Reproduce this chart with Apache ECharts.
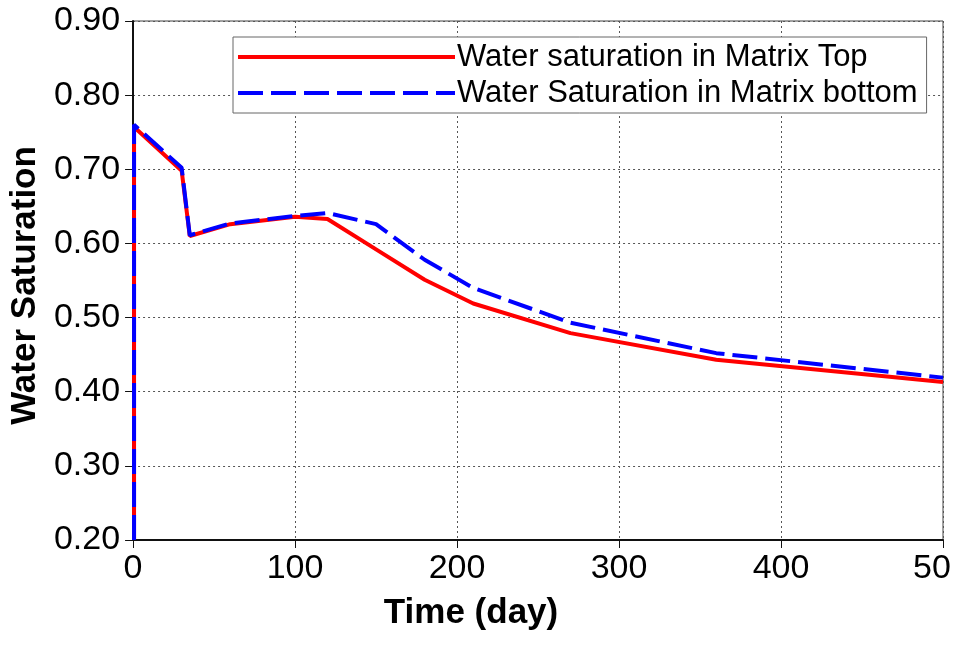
<!DOCTYPE html>
<html>
<head>
<meta charset="utf-8">
<script src="https://cdn.jsdelivr.net/npm/echarts@6/dist/echarts.min.js"></script>
<style>
html,body{margin:0;padding:0;background:#fff;}
#chart{width:958px;height:645px;}
</style>
</head>
<body>
<div id="chart"></div>
<script>
// ---- data ----
const timeDays = [0.6, 0.6, 30, 35, 60, 100, 120, 150, 180, 210, 270, 360, 500];
const swMatrixTop = [0.20, 0.757, 0.698, 0.610, 0.626, 0.636, 0.633, 0.592, 0.551, 0.519, 0.479, 0.443, 0.413];
const swMatrixBottom = [0.20, 0.760, 0.702, 0.611, 0.627, 0.637, 0.641, 0.626, 0.578, 0.540, 0.493, 0.452, 0.419];
const xTickLabels = ["0", "100", "200", "300", "400", "50"];
const yTickLabels = ["0.20", "0.30", "0.40", "0.50", "0.60", "0.70", "0.80", "0.90"];
const seriesNames = ["Water saturation in Matrix Top", "Water Saturation in Matrix bottom"];
const xTitle = "Time (day)";
const yTitle = "Water Saturation";

const FONT = "'Liberation Sans', Arial, sans-serif";
const chart = echarts.init(document.getElementById('chart'), null, {renderer: 'canvas'});

const pairs = (xs, ys) => xs.map((x, i) => [x, ys[i]]);

chart.setOption({
  animation: false,
  backgroundColor: '#fff',
  grid: {
    left: 131, right: 15, top: 21, bottom: 105,
    show: true, borderColor: '#444', borderWidth: 1, backgroundColor: 'transparent'
  },
  legend: {
    orient: 'vertical',
    left: 233, top: 37,
    padding: [2, 9, 2, 3],
    backgroundColor: '#fff',
    borderColor: '#666', borderWidth: 1,
    itemWidth: 217, itemHeight: 14, itemGap: 0,
    itemStyle: {opacity: 0},
    lineStyle: {width: 4},
    textStyle: {fontFamily: FONT, fontSize: 31, color: '#000', lineHeight: 36, padding: [0, 0, 0, -3]},
    data: seriesNames
  },
  xAxis: {
    type: 'value', min: 0, max: 500, interval: 100,
    name: xTitle, nameLocation: 'middle', nameGap: 56,
    nameTextStyle: {fontFamily: FONT, fontSize: 35, fontWeight: 'bold', color: '#000', padding: [0, 134, 0, 0]},
    axisLine: {show: true, onZero: false, lineStyle: {color: '#111', width: 2}},
    axisTick: {show: true, inside: false, length: 8, lineStyle: {color: '#111', width: 1}},
    axisLabel: {
      fontFamily: FONT, fontSize: 34, color: '#000', margin: 12,
      formatter: v => { const i = Math.round(v / 100); return i === xTickLabels.length - 1 ? '{cut|' + xTickLabels[i] + '}' : xTickLabels[i]; },
      rich: {cut: {fontFamily: FONT, fontSize: 34, color: '#000', padding: [0, 22, 0, 0]}}
    },
    splitLine: {show: true, lineStyle: {color: '#555', width: 1, type: [2, 3]}}
  },
  yAxis: {
    type: 'value', min: 0.2, max: 0.9, interval: 0.1,
    name: yTitle, nameLocation: 'middle', nameGap: 88,
    nameTextStyle: {fontFamily: FONT, fontSize: 35, fontWeight: 'bold', color: '#000', padding: [0, 10, 0, 0]},
    axisLine: {show: true, onZero: false, lineStyle: {color: '#111', width: 2}},
    axisTick: {show: true, inside: false, length: 8, lineStyle: {color: '#111', width: 1}},
    axisLabel: {
      fontFamily: FONT, fontSize: 34, color: '#000', margin: 13,
      formatter: v => yTickLabels[Math.round((v - 0.2) / 0.1)]
    },
    splitLine: {show: true, lineStyle: {color: '#555', width: 1, type: [2, 3]}}
  },
  series: [
    {
      name: seriesNames[0], type: 'line', data: pairs(timeDays, swMatrixTop),
      showSymbol: false, symbol: 'none', clip: true,
      lineStyle: {color: '#ff0000', width: 4, type: 'solid'},
      itemStyle: {color: '#ff0000'}, z: 3
    },
    {
      name: seriesNames[1], type: 'line', data: pairs(timeDays, swMatrixBottom),
      showSymbol: false, symbol: 'none', clip: true,
      lineStyle: {color: '#0000ff', width: 4, type: [25, 8]},
      itemStyle: {color: '#0000ff'}, z: 4
    }
  ]
});
</script>
</body>
</html>
